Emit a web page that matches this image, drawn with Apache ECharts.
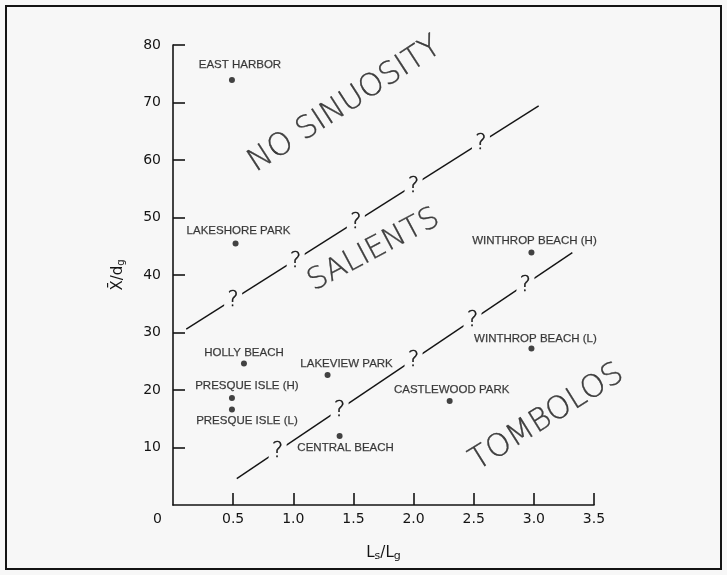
<!DOCTYPE html>
<html>
<head>
<meta charset="utf-8">
<script src="https://cdn.jsdelivr.net/npm/echarts@6/dist/echarts.min.js"></script>
<style>
  html, body { margin: 0; padding: 0; background: #f7f7f7; }
  #chart { width: 727px; height: 575px; }
</style>
</head>
<body>
<div id="chart"></div>
<script>
// Field sites: gap-to-length ratio (Ls/Lg) against distance offshore (X/dg)
const siteNames = ['EAST HARBOR', 'LAKESHORE PARK', 'HOLLY BEACH', 'PRESQUE ISLE (H)', 'PRESQUE ISLE (L)',
  'LAKEVIEW PARK', 'CENTRAL BEACH', 'CASTLEWOOD PARK', 'WINTHROP BEACH (H)', 'WINTHROP BEACH (L)'];
const siteRatio = [0.49, 0.52, 0.59, 0.49, 0.49, 1.285, 1.385, 2.30, 2.98, 2.98];
const siteDistance = [73.9, 45.5, 24.6, 18.6, 16.6, 22.6, 12.0, 18.1, 43.9, 27.2];

// Boundary lines between response types, with the uncertain points marked "?"
const upperBoundary = [[0.11, 30.6], [3.04, 69.4]];
const upperQueryX = [0.50, 1.02, 1.52, 2.00, 2.56];
const upperQueryY = [35.8, 42.6, 49.3, 55.6, 63.0];
const lowerBoundary = [[0.53, 4.6], [3.32, 43.9]];
const lowerQueryX = [0.87, 1.385, 2.00, 2.49, 2.93];
const lowerQueryY = [9.4, 16.6, 25.3, 32.2, 38.4];

// Region names
const regionNames = ['NO SINUOSITY', 'SALIENTS', 'TOMBOLOS'];
const regionX = [1.43, 1.67, 3.11];
const regionY = [69.6, 44.3, 15.2];

// Axis ticks
const xTicks = [0, 0.5, 1.0, 1.5, 2.0, 2.5, 3.0, 3.5];
const yTicks = [0, 10, 20, 30, 40, 50, 60, 70, 80];

// Label placement (pixel offsets from each dot)
const labelOffsets = {
  'EAST HARBOR': [8, -15], 'LAKESHORE PARK': [3, -13], 'HOLLY BEACH': [0, -11],
  'PRESQUE ISLE (H)': [15, -12], 'PRESQUE ISLE (L)': [15, 11], 'LAKEVIEW PARK': [19, -11],
  'CENTRAL BEACH': [6, 12], 'CASTLEWOOD PARK': [2, -11], 'WINTHROP BEACH (H)': [3, -12],
  'WINTHROP BEACH (L)': [4, -10]
};
const regionRotation = [33, 28, 32];
const regionFontSize = [31, 30, 31];

const INK = '#141414';
const BG = '#f7f7f7';
const THIN_FONT = 'DejaVu Sans';

const chart = echarts.init(document.getElementById('chart'), null, { renderer: 'canvas' });

const sites = siteNames.map((n, i) => ({
  name: n,
  value: [siteRatio[i], siteDistance[i]],
  label: { offset: labelOffsets[n] }
}));

function queries(xs, ys) {
  return xs.map((x, i) => [x, ys[i]]);
}

// each "?" sits on a small background-coloured patch that breaks the boundary line
function querySeries(xs, ys) {
  return {
    type: 'scatter', data: queries(xs, ys), silent: true,
    symbol: 'rect', symbolSize: [18, 20],
    itemStyle: { color: BG, opacity: 1 },
    label: {
      show: true, position: 'inside', formatter: '?',
      fontFamily: THIN_FONT, fontWeight: 200, fontSize: 21, color: INK,
      textBorderColor: INK, textBorderWidth: 0.5, offset: [0, 1]
    },
    emphasis: { disabled: true },
    z: 3
  };
}

chart.setOption({
  backgroundColor: BG,
  animation: false,
  grid: { left: 173, right: 133, top: 45, bottom: 70 },
  xAxis: {
    type: 'value', min: 0, max: 3.5, interval: 0.5,
    splitLine: { show: false },
    axisLine: { lineStyle: { color: INK, width: 1.6 } },
    axisTick: { inside: true, length: 12, lineStyle: { color: INK, width: 1.6 },
      customValues: xTicks.slice(1) },
    axisLabel: {
      margin: 7, fontFamily: 'DejaVu Sans', fontSize: 14, color: INK,
      customValues: xTicks,
      formatter: v => v === 0 ? '{z|0}' : v.toFixed(1),
      rich: { z: { padding: [0, 31, 0, 0], fontFamily: 'DejaVu Sans', fontSize: 14, color: INK } }
    },
    name: 'L{sub|s}/L{sub|g}', nameLocation: 'middle', nameGap: 40,
    nameTextStyle: {
      fontFamily: 'DejaVu Sans', fontSize: 15, color: INK,
      rich: { sub: { fontFamily: 'DejaVu Sans', fontSize: 11, color: INK, verticalAlign: 'bottom', padding: [6, 0, 0, 0] } }
    }
  },
  yAxis: {
    type: 'value', min: 0, max: 80, interval: 10,
    splitLine: { show: false },
    axisLine: { lineStyle: { color: INK, width: 1.6 } },
    axisTick: { inside: true, length: 12, lineStyle: { color: INK, width: 1.6 },
      customValues: yTicks.slice(1) },
    axisLabel: {
      margin: 12, fontFamily: 'DejaVu Sans', fontSize: 14, color: INK,
      customValues: yTicks.slice(1)
    },
    name: 'X\u0304/d{sub|g}', nameLocation: 'middle', nameGap: 47, nameRotate: 90,
    nameTextStyle: {
      fontFamily: 'DejaVu Sans', fontSize: 15, color: INK,
      rich: { sub: { fontFamily: 'DejaVu Sans', fontSize: 10, color: INK, verticalAlign: 'bottom', padding: [6, 0, 0, 0] } }
    }
  },
  series: [
    {
      type: 'line', data: upperBoundary, symbol: 'none', silent: true,
      lineStyle: { color: INK, width: 1.4 }, z: 2
    },
    {
      type: 'line', data: lowerBoundary, symbol: 'none', silent: true,
      lineStyle: { color: INK, width: 1.4 }, z: 2
    },
    querySeries(upperQueryX, upperQueryY),
    querySeries(lowerQueryX, lowerQueryY),
    {
      type: 'scatter', data: sites, symbol: 'circle', symbolSize: 6,
      itemStyle: { color: INK },
      label: {
        show: true, position: 'inside', formatter: p => p.name,
        fontFamily: 'Liberation Sans', fontSize: 11.5, color: INK,
        textBorderColor: INK, textBorderWidth: 0.25
      },
      z: 4
    },
    {
      type: 'scatter', symbolSize: 0, z: 3, silent: true,
      data: regionNames.map((n, i) => ({
        name: n, value: [regionX[i], regionY[i]],
        label: { rotate: regionRotation[i], fontSize: regionFontSize[i] }
      })),
      label: {
        show: true, position: 'inside', formatter: p => p.name,
        fontFamily: THIN_FONT, fontWeight: 200, color: INK,
        textBorderColor: INK, textBorderWidth: 0.35
      }
    }
  ],
  graphic: [{
    type: 'rect', silent: true,
    shape: { x: 6, y: 6, width: 715, height: 563 },
    style: { fill: 'none', stroke: INK, lineWidth: 2 }
  }]
});
</script>
</body>
</html>
